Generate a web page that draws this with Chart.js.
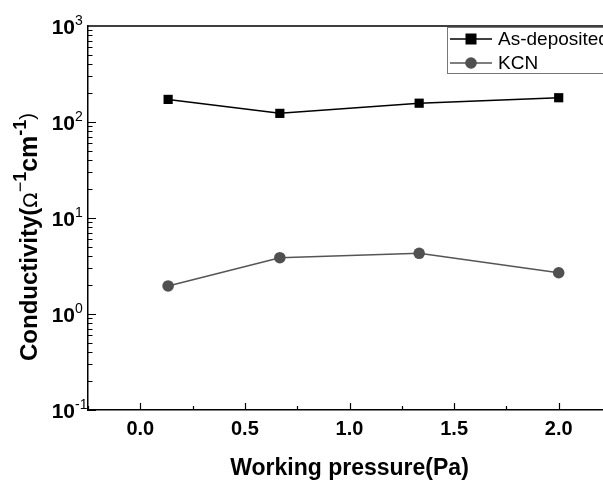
<!DOCTYPE html>
<html>
<head>
<meta charset="utf-8">
<script src="https://cdn.jsdelivr.net/npm/chart.js@4.4.1/dist/chart.umd.min.js"></script>
<style>
html,body{margin:0;padding:0;background:#fff;overflow:hidden;width:603px;height:480px;}
canvas{display:block;}
</style>
</head>
<body>
<canvas id="c" width="620" height="480"></canvas>
<script>
const pressure = [0.133, 0.667, 1.333, 2.0];
const asDeposited = [172, 123, 157, 179];
const kcn = [1.96, 3.86, 4.29, 2.69];
const seriesNames = ['As-deposited', 'KCN'];
const xTicks = [0.0, 0.5, 1.0, 1.5, 2.0];
const xMinorTicks = [-0.25, 0.25, 0.75, 1.25, 1.75, 2.25];
const yExponents = [-1, 0, 1, 2, 3];

const FONT = '"Liberation Sans", Arial, sans-serif';

function pts(xs, ys){ return xs.map((x,i)=>({x:x, y:ys[i]})); }

const decor = {
  id: 'decor',
  afterDraw(chart){
    const ctx = chart.ctx;
    const a = chart.chartArea;
    const xs = chart.scales.x, ys = chart.scales.y;
    ctx.save();
    ctx.strokeStyle = '#000';
    ctx.lineWidth = 1.5;
    // frame top & right
    ctx.beginPath();
    ctx.moveTo(a.left, a.top); ctx.lineTo(a.right, a.top);
    ctx.moveTo(a.right, a.top); ctx.lineTo(a.right, a.bottom);
    ctx.stroke();
    // y ticks
    ctx.lineWidth = 1.2;
    ctx.beginPath();
    for (let e = -1; e < 3; e++) {
      for (let k = 1; k <= 9; k++) {
        const v = k * Math.pow(10, e);
        const py = Math.round(ys.getPixelForValue(v)) + 0.5;
        const len = (k === 1) ? 8 : 4.5;
        ctx.moveTo(a.left, py); ctx.lineTo(a.left + len, py);
      }
    }
    ctx.stroke();
    // x ticks
    ctx.beginPath();
    xTicks.forEach(v => {
      const px = Math.round(xs.getPixelForValue(v)) + 0.5;
      ctx.moveTo(px, a.bottom); ctx.lineTo(px, a.bottom - 7);
    });
    xMinorTicks.forEach(v => {
      const px = Math.round(xs.getPixelForValue(v)) + 0.5;
      ctx.moveTo(px, a.bottom); ctx.lineTo(px, a.bottom - 4);
    });
    ctx.stroke();
    // x tick labels
    ctx.fillStyle = '#000';
    ctx.font = 'bold 20px ' + FONT;
    ctx.textAlign = 'center';
    ctx.textBaseline = 'alphabetic';
    xTicks.forEach(v => {
      ctx.fillText(v.toFixed(1), xs.getPixelForValue(v), a.bottom + 25);
    });
    // y tick labels: 10^e
    yExponents.forEach(e => {
      const py = ys.getPixelForValue(Math.pow(10, e));
      const baseRight = 75;
      ctx.font = 'bold 21px ' + FONT;
      ctx.textAlign = 'right';
      ctx.textBaseline = 'alphabetic';
      ctx.fillText('10', baseRight, py + 8);
      ctx.font = '14px ' + FONT;
      ctx.textAlign = 'left';
      ctx.fillText(String(e), baseRight, py - 1);
    });
    // x title
    ctx.font = 'bold 23px ' + FONT;
    ctx.textAlign = 'center';
    ctx.textBaseline = 'alphabetic';
    ctx.fillText('Working pressure(Pa)', (a.left + a.right) / 2, 475);
    // y title (rotated, composed)
    ctx.save();
    ctx.translate(37, 237);
    ctx.rotate(-Math.PI/2);
    const segs = [
      {t:'Conductivity(', f:'bold 24px ' + FONT, dy:0},
      {t:'\u03A9', f:'20px "DejaVu Sans", ' + FONT, dy:0},
      {t:'\u2212', f:'18px ' + FONT, dy:-11},
      {t:'1', f:'bold 18px ' + FONT, dy:-11},
      {t:'cm', f:'bold 25px ' + FONT, dy:0},
      {t:'-1', f:'bold 18px ' + FONT, dy:-11},
      {t:')', f:'20px ' + FONT, dy:-3}
    ];
    let total = 0;
    segs.forEach(s => { ctx.font = s.f; s.w = ctx.measureText(s.t).width; total += s.w; });
    let cx = -total/2;
    ctx.textAlign = 'left';
    ctx.textBaseline = 'alphabetic';
    segs.forEach(s => { ctx.font = s.f; ctx.fillText(s.t, cx, s.dy); cx += s.w; });
    ctx.restore();
    // legend
    const lx = 447, ly = 27, lh = 46;
    ctx.strokeStyle = '#777';
    ctx.lineWidth = 1;
    ctx.strokeRect(lx + 0.5, ly + 0.5, 200, lh);
    const ds = chart.data.datasets;
    [39, 63].forEach((yy, i) => {
      const d = ds[i];
      ctx.strokeStyle = d.borderColor;
      ctx.lineWidth = 1.5;
      ctx.beginPath(); ctx.moveTo(450, yy); ctx.lineTo(492, yy); ctx.stroke();
      ctx.fillStyle = d.pointBackgroundColor;
      if (d.pointStyle === 'rect') {
        ctx.fillRect(471 - 5.5, yy - 5.5, 11, 11);
      } else {
        ctx.beginPath(); ctx.arc(471, yy, 5.8, 0, Math.PI*2); ctx.fill();
      }
      ctx.fillStyle = '#000';
      ctx.font = '19px ' + FONT;
      ctx.textAlign = 'left';
      ctx.textBaseline = 'middle';
      ctx.fillText(seriesNames[i], 498, yy + 1);
    });
    ctx.restore();
  }
};

new Chart(document.getElementById('c'), {
  type: 'line',
  data: {
    datasets: [
      {
        label: seriesNames[0],
        data: pts(pressure, asDeposited),
        borderColor: '#000',
        backgroundColor: '#000',
        pointBackgroundColor: '#000',
        pointBorderColor: '#000',
        pointStyle: 'rect',
        pointRadius: 6.5,
        borderWidth: 1.5,
        pointBorderWidth: 0
      },
      {
        label: seriesNames[1],
        data: pts(pressure, kcn),
        borderColor: '#555',
        backgroundColor: '#505050',
        pointBackgroundColor: '#505050',
        pointBorderColor: '#505050',
        pointStyle: 'circle',
        pointRadius: 5.8,
        borderWidth: 1.5,
        pointBorderWidth: 0
      }
    ]
  },
  options: {
    responsive: false,
    animation: false,
    layout: { padding: { left: 88, top: 26, right: 9, bottom: 70 } },
    plugins: { legend: { display: false }, tooltip: { enabled: false } },
    scales: {
      x: {
        type: 'linear', min: -0.25, max: 2.25,
        grid: { display: false, drawTicks: false },
        border: { display: true, color: '#000', width: 1.5 },
        ticks: { display: false }
      },
      y: {
        type: 'logarithmic', min: 0.1, max: 1000,
        grid: { display: false, drawTicks: false },
        border: { display: true, color: '#000', width: 1.5 },
        ticks: { display: false }
      }
    }
  },
  plugins: [decor]
});
</script>
</body>
</html>
